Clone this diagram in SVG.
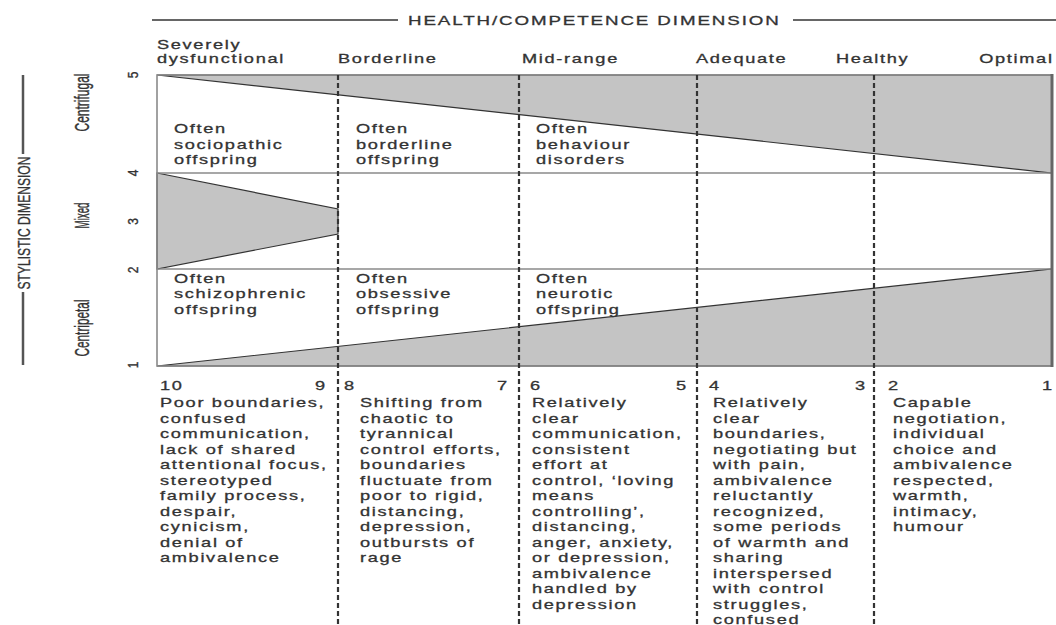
<svg xmlns="http://www.w3.org/2000/svg" width="1056" height="625" viewBox="0 0 1056 625">
<style>
.t{font-family:"Liberation Sans",Arial,Helvetica,sans-serif;font-size:13px;letter-spacing:1.2px;fill:#333;stroke:#333;stroke-width:0.3}
.title{font-size:13.4px;letter-spacing:1.35px}
.ax{font-family:"Liberation Sans",Arial,Helvetica,sans-serif;font-size:15px;fill:#333;stroke:#333;stroke-width:0.3}
.num{font-family:"Liberation Sans",Arial,Helvetica,sans-serif;font-size:12px;fill:#333;stroke:#333;stroke-width:0.3}
.fill{fill:#c4c4c4;stroke:#333;stroke-width:1.2}
.grid{stroke:#8a8a8a;stroke-width:1.6;fill:none}
.dash{stroke:#333;stroke-width:2.2;stroke-dasharray:5 3}
.axl{stroke:#555;stroke-width:2.5}
</style>
<rect width="1056" height="625" fill="#ffffff"/>

<g id="header">
  <line x1="152" y1="20" x2="398" y2="20" stroke="#333" stroke-width="1.5"/>
  <line x1="793" y1="20" x2="1056" y2="20" stroke="#333" stroke-width="1.5"/>
  <g transform="scale(1.4,1)">
    <text class="t title" x="291.43" y="25">HEALTH/COMPETENCE DIMENSION</text>
  </g>
</g>

<g id="level-labels" transform="scale(1.4,1)">
  <text class="t" x="112.14" y="49.5">Severely</text>
  <text class="t" x="112.14" y="63.5">dysfunctional</text>
  <text class="t" x="241.43" y="63.5">Borderline</text>
  <text class="t" x="372.86" y="63.5">Mid-range</text>
  <text class="t" x="497.14" y="63.5">Adequate</text>
  <text class="t" x="597.14" y="63.5">Healthy</text>
  <text class="t" x="752.6" y="63.5" text-anchor="end">Optimal</text>
</g>

<g id="stylistic-axis">
  <line class="axl" x1="23" y1="75" x2="23" y2="154"/>
  <line class="axl" x1="23" y1="292" x2="23" y2="365"/>
  <text class="ax" transform="translate(30,223) rotate(-90) scale(1,1.15)" text-anchor="middle" textLength="133" lengthAdjust="spacingAndGlyphs">STYLISTIC DIMENSION</text>
  <text class="ax" transform="translate(89,102.5) rotate(-90) scale(1,1.3)" text-anchor="middle" textLength="58" lengthAdjust="spacingAndGlyphs">Centrifugal</text>
  <text class="ax" transform="translate(89,215.5) rotate(-90) scale(1,1.3)" text-anchor="middle" textLength="26" lengthAdjust="spacingAndGlyphs">Mixed</text>
  <text class="ax" transform="translate(89,328) rotate(-90) scale(1,1.3)" text-anchor="middle" textLength="57" lengthAdjust="spacingAndGlyphs">Centripetal</text>
  <text class="num" transform="translate(137.5,75) rotate(-90) scale(1,1.2)" text-anchor="middle">5</text>
  <text class="num" transform="translate(137.5,173) rotate(-90) scale(1,1.2)" text-anchor="middle">4</text>
  <text class="num" transform="translate(137.5,221.5) rotate(-90) scale(1,1.2)" text-anchor="middle">3</text>
  <text class="num" transform="translate(137.5,270) rotate(-90) scale(1,1.2)" text-anchor="middle">2</text>
  <text class="num" transform="translate(137.5,365) rotate(-90) scale(1,1.2)" text-anchor="middle">1</text>
</g>

<g id="chart">
  <polygon class="fill" points="157,75 1052,75 1052,173"/>
  <polygon class="fill" points="157,366 1052,269 1052,366"/>
  <polygon class="fill" points="157,173 338,209 338,234 157,269"/>
  <rect class="grid" x="157" y="75" width="895" height="291"/>
  <line class="grid" x1="157" y1="173" x2="1052" y2="173"/>
  <line class="grid" x1="157" y1="269" x2="1052" y2="269"/>
  <line x1="1052" y1="74" x2="1052" y2="367" stroke="#666" stroke-width="3"/>
</g>

<g id="connectors">
  <line class="dash" x1="338" y1="75" x2="338" y2="625"/>
  <line class="dash" x1="519" y1="75" x2="519" y2="625"/>
  <line class="dash" x1="697" y1="75" x2="697" y2="625"/>
  <line class="dash" x1="874" y1="75" x2="874" y2="625"/>
</g>

<g id="offspring-labels" transform="scale(1.4,1)">
  <text class="t"><tspan x="124.29" y="133.5">Often</tspan><tspan x="124.29" y="149">sociopathic</tspan><tspan x="124.29" y="164.5">offspring</tspan></text>
  <text class="t"><tspan x="254.29" y="133.5">Often</tspan><tspan x="254.29" y="149">borderline</tspan><tspan x="254.29" y="164.5">offspring</tspan></text>
  <text class="t"><tspan x="382.86" y="133.5">Often</tspan><tspan x="382.86" y="149">behaviour</tspan><tspan x="382.86" y="164.5">disorders</tspan></text>
  <text class="t"><tspan x="124.29" y="283">Often</tspan><tspan x="124.29" y="298.5">schizophrenic</tspan><tspan x="124.29" y="314">offspring</tspan></text>
  <text class="t"><tspan x="254.29" y="283">Often</tspan><tspan x="254.29" y="298.5">obsessive</tspan><tspan x="254.29" y="314">offspring</tspan></text>
  <text class="t"><tspan x="382.86" y="283">Often</tspan><tspan x="382.86" y="298.5">neurotic</tspan><tspan x="382.86" y="314">offspring</tspan></text>
</g>

<g id="scale-numbers" transform="scale(1.4,1)">
  <text class="t" x="114.29" y="390">10</text>
  <text class="t" x="233.36" y="390" text-anchor="end">9</text>
  <text class="t" x="245.71" y="390">8</text>
  <text class="t" x="363.36" y="390" text-anchor="end">7</text>
  <text class="t" x="378.57" y="390">6</text>
  <text class="t" x="491.21" y="390" text-anchor="end">5</text>
  <text class="t" x="506.43" y="390">4</text>
  <text class="t" x="619.07" y="390" text-anchor="end">3</text>
  <text class="t" x="634.29" y="390">2</text>
  <text class="t" x="752.64" y="390" text-anchor="end">1</text>
</g>

<g id="col-1" transform="scale(1.4,1)">
  <text class="t">
    <tspan x="114.29" y="407.5">Poor boundaries,</tspan>
    <tspan x="114.29" dy="15.5">confused</tspan>
    <tspan x="114.29" dy="15.5">communication,</tspan>
    <tspan x="114.29" dy="15.5">lack of shared</tspan>
    <tspan x="114.29" dy="15.5">attentional focus,</tspan>
    <tspan x="114.29" dy="15.5">stereotyped</tspan>
    <tspan x="114.29" dy="15.5">family process,</tspan>
    <tspan x="114.29" dy="15.5">despair,</tspan>
    <tspan x="114.29" dy="15.5">cynicism,</tspan>
    <tspan x="114.29" dy="15.5">denial of</tspan>
    <tspan x="114.29" dy="15.5">ambivalence</tspan>
  </text>
</g>

<g id="col-2" transform="scale(1.4,1)">
  <text class="t">
    <tspan x="257.14" y="407.5">Shifting from</tspan>
    <tspan x="257.14" dy="15.5">chaotic to</tspan>
    <tspan x="257.14" dy="15.5">tyrannical</tspan>
    <tspan x="257.14" dy="15.5">control efforts,</tspan>
    <tspan x="257.14" dy="15.5">boundaries</tspan>
    <tspan x="257.14" dy="15.5">fluctuate from</tspan>
    <tspan x="257.14" dy="15.5">poor to rigid,</tspan>
    <tspan x="257.14" dy="15.5">distancing,</tspan>
    <tspan x="257.14" dy="15.5">depression,</tspan>
    <tspan x="257.14" dy="15.5">outbursts of</tspan>
    <tspan x="257.14" dy="15.5">rage</tspan>
  </text>
</g>

<g id="col-3" transform="scale(1.4,1)">
  <text class="t">
    <tspan x="380" y="407.5">Relatively</tspan>
    <tspan x="380" dy="15.5">clear</tspan>
    <tspan x="380" dy="15.5">communication,</tspan>
    <tspan x="380" dy="15.5">consistent</tspan>
    <tspan x="380" dy="15.5">effort at</tspan>
    <tspan x="380" dy="15.5">control, ‘loving</tspan>
    <tspan x="380" dy="15.5">means</tspan>
    <tspan x="380" dy="15.5">controlling’,</tspan>
    <tspan x="380" dy="15.5">distancing,</tspan>
    <tspan x="380" dy="15.5">anger, anxiety,</tspan>
    <tspan x="380" dy="15.5">or depression,</tspan>
    <tspan x="380" dy="15.5">ambivalence</tspan>
    <tspan x="380" dy="15.5">handled by</tspan>
    <tspan x="380" dy="15.5">depression</tspan>
  </text>
</g>

<g id="col-4" transform="scale(1.4,1)">
  <text class="t">
    <tspan x="509.29" y="407.5">Relatively</tspan>
    <tspan x="509.29" dy="15.5">clear</tspan>
    <tspan x="509.29" dy="15.5">boundaries,</tspan>
    <tspan x="509.29" dy="15.5">negotiating but</tspan>
    <tspan x="509.29" dy="15.5">with pain,</tspan>
    <tspan x="509.29" dy="15.5">ambivalence</tspan>
    <tspan x="509.29" dy="15.5">reluctantly</tspan>
    <tspan x="509.29" dy="15.5">recognized,</tspan>
    <tspan x="509.29" dy="15.5">some periods</tspan>
    <tspan x="509.29" dy="15.5">of warmth and</tspan>
    <tspan x="509.29" dy="15.5">sharing</tspan>
    <tspan x="509.29" dy="15.5">interspersed</tspan>
    <tspan x="509.29" dy="15.5">with control</tspan>
    <tspan x="509.29" dy="15.5">struggles,</tspan>
    <tspan x="509.29" dy="15.5">confused</tspan>
  </text>
</g>

<g id="col-5" transform="scale(1.4,1)">
  <text class="t">
    <tspan x="637.86" y="407.5">Capable</tspan>
    <tspan x="637.86" dy="15.5">negotiation,</tspan>
    <tspan x="637.86" dy="15.5">individual</tspan>
    <tspan x="637.86" dy="15.5">choice and</tspan>
    <tspan x="637.86" dy="15.5">ambivalence</tspan>
    <tspan x="637.86" dy="15.5">respected,</tspan>
    <tspan x="637.86" dy="15.5">warmth,</tspan>
    <tspan x="637.86" dy="15.5">intimacy,</tspan>
    <tspan x="637.86" dy="15.5">humour</tspan>
  </text>
</g>
</svg>
